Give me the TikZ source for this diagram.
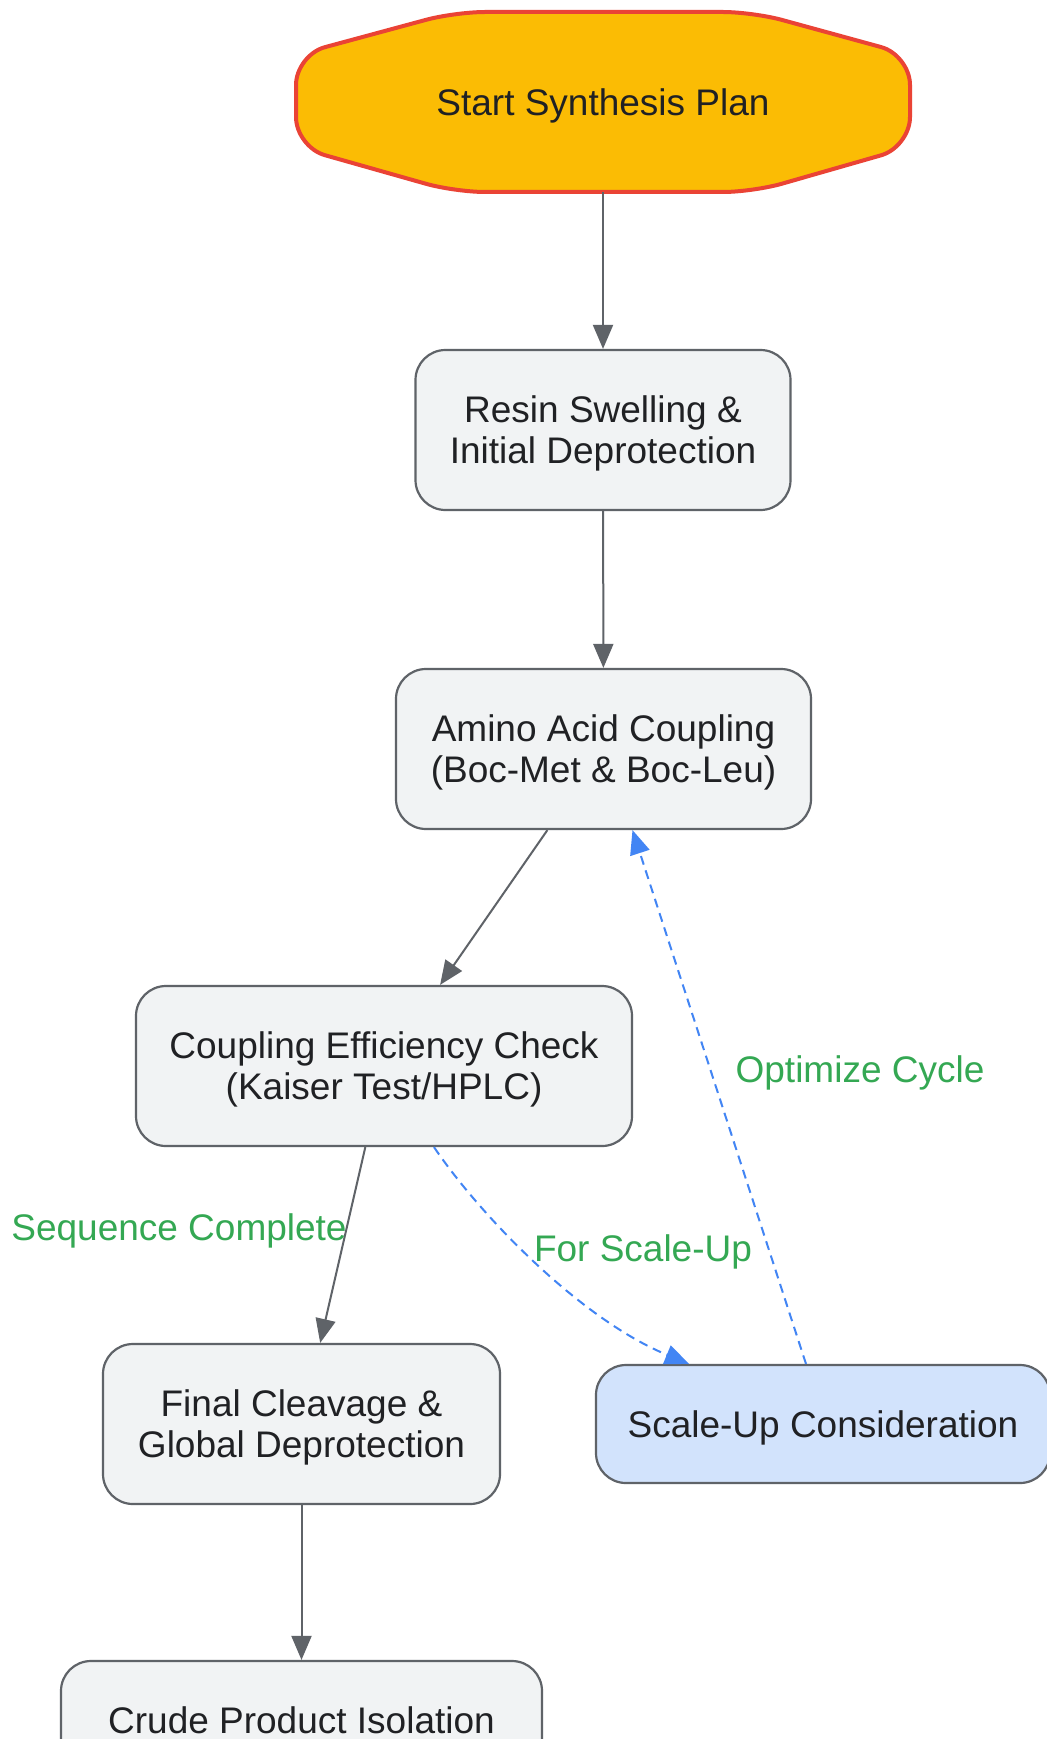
\documentclass[tikz,border=0pt]{standalone}
\usepackage{fontspec}
\setmainfont{Liberation Sans}
\definecolor{GrisBordure}{HTML}{5F6368}
\definecolor{GrisFond}{HTML}{F1F3F4}
\definecolor{BleuFond}{HTML}{D2E3FC}
\definecolor{BleuLien}{HTML}{4285F4}
\definecolor{VertEtiquette}{HTML}{34A853}
\definecolor{JauneDepart}{HTML}{FBBC04}
\definecolor{RougeDepart}{HTML}{EA4335}
\definecolor{TexteNoir}{HTML}{202124}
\usetikzlibrary{arrows.meta}
\usetikzlibrary{positioning}

\begin{document}
\begin{tikzpicture}
	[x=0.5pt, y=-0.5pt,
	every node/.style = {align=center, text=TexteNoir, text depth=0pt,
		font=\fontsize{18.5pt}{20.5pt}\selectfont},
	etape/.style = {shape=rectangle, rounded corners=15pt, fill=GrisFond,
		draw=GrisBordure, line width=1.1pt, minimum height=80pt, inner sep=0pt},
	lien/.style = {draw=GrisBordure, line width=1pt,
		-{Triangle[length=12pt,width=10pt]}},
	boucle/.style = {draw=BleuLien, line width=1pt, dash pattern=on 4.5pt off 3pt,
		-{Triangle[length=12pt,width=10pt]}},
	etiquette/.style = {text=VertEtiquette}]
	\useasboundingbox[fill=white] (0,0) rectangle (1047,1739);
	% depart
	\draw[fill=JauneDepart, draw=RougeDepart, line width=2pt, rounded corners=15pt]
		(455,12) -- (753,12) -- (910,55) -- (910,147) -- (753,192)
		-- (455,192) -- (296,147) -- (296,55) -- cycle;
	\node[minimum width=307pt, minimum height=90pt, inner sep=0pt] (start) at (603,102) {Start Synthesis Plan};
	% etapes
	\node[etape, minimum width=187.5pt] (resin) at (603,430) {Resin Swelling \&\\Initial Deprotection};
	\node[etape, minimum width=207.5pt] (amino) at (603.5,749) {Amino Acid Coupling\\(Boc-Met \& Boc-Leu)};
	\node[etape, minimum width=248pt] (check) at (384,1066) {Coupling Efficiency Check\\(Kaiser Test/HPLC)};
	\node[etape, minimum width=198.5pt] (final) at (301.5,1424) {Final Cleavage \&\\Global Deprotection};
	\node[etape, fill=BleuFond, minimum width=227pt, minimum height=59pt] (scaleup) at (823,1424) {Scale-Up Consideration};
	\node[etape, minimum width=240.5pt, minimum height=59pt] (crude) at (301.5,1720) {Crude Product Isolation};
	% liens
	\draw[lien] (start) -- (resin);
	\draw[lien] (resin) -- (amino);
	\draw[lien] (amino) -- (check);
	\draw[lien] (check) -- (final);
	\draw[lien] (final) -- (crude);
	\draw[boucle] ([xshift=25pt]check.south) .. controls +(23pt,-34pt) and +(-54.5pt,22.5pt) .. ([xshift=-67pt]scaleup.north);
	\draw[boucle] ([xshift=-8.5pt]scaleup.north) -- ([xshift=14.5pt]amino.south);
	% etiquettes
	\node[etiquette] (seqlabel) at (179,1227) {Sequence Complete};
	\node[etiquette] (scalelabel) at (643,1248) {For Scale-Up};
	\node[etiquette] (optlabel) at (860,1069) {Optimize Cycle};
\end{tikzpicture}
\end{document}
